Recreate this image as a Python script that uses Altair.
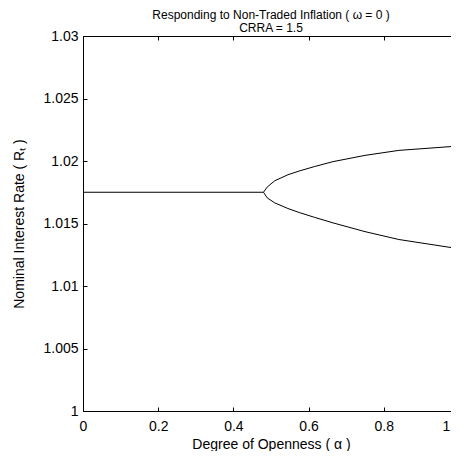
import altair as alt
import pandas as pd

# ---- data ----
alpha_flat = [0.0, 0.48]
rate_flat = [1.0175, 1.0175]

alpha_branch = [0.48, 0.49, 0.51, 0.545, 0.575, 0.615, 0.665, 0.75, 0.84, 1.0]
rate_upper = [1.01750, 1.01792, 1.01842, 1.01890, 1.01920, 1.01955, 1.01995, 1.02045, 1.02085, 1.02120]
rate_lower = [1.01750, 1.01705, 1.01665, 1.01620, 1.01588, 1.01550, 1.01505, 1.01435, 1.01372, 1.01298]

x_ticks = [0, 0.2, 0.4, 0.6, 0.8, 1]
y_ticks = [1, 1.005, 1.01, 1.015, 1.02, 1.025, 1.03]

title_lines = ["Responding to Non-Traded Inflation (  \u03c9 = 0 )", "CRRA = 1.5"]
x_title = "Degree of Openness ( \u03b1 )"
y_title = "Nominal Interest Rate ( R\u209c )"

rows = []
for a, r in zip(alpha_flat, rate_flat):
    rows.append({"alpha": a, "rate": r, "branch": "flat"})
for a, r in zip(alpha_branch, rate_upper):
    rows.append({"alpha": a, "rate": r, "branch": "upper"})
for a, r in zip(alpha_branch, rate_lower):
    rows.append({"alpha": a, "rate": r, "branch": "lower"})
df = pd.DataFrame(rows)

W, H = 376, 375
FONT = "Liberation Sans"
FS = 14
TITLE_FS = 12
TICK = 4


def xs():
    return alt.Scale(domain=[0, 1], nice=False, zero=False)


def ys():
    return alt.Scale(domain=[1, 1.03], nice=False, zero=False)


# Layer A: the curve, with labelled bottom and left axes (no ticks)
layer_a = alt.Chart(df).mark_line(color="black", strokeWidth=1, clip=True).encode(
    x=alt.X("alpha:Q", scale=xs(), axis=alt.Axis(
        orient="bottom", values=x_ticks, format="~g", ticks=False, tickSize=0,
        labelPadding=8, labelFlush=False, grid=False, domain=True,
        domainColor="black", title=x_title, titlePadding=4,
        titleFontWeight="normal",
        labelOffset={"condition": {"test": "datum.value == 1", "value": -13},
                     "value": 0})),
    y=alt.Y("rate:Q", scale=ys(), axis=alt.Axis(
        orient="left", values=y_ticks, format="~g", ticks=False, tickSize=0,
        labelPadding=5, labelFlush=False, grid=False, domain=True,
        domainColor="black", title=y_title, titlePadding=16,
        titleFontWeight="normal")),
    detail="branch:N",
)

# Layer B: inward ticks on the bottom and left edges
layer_b = alt.Chart(df).mark_line(opacity=0).encode(
    x=alt.X("alpha:Q", scale=xs(), axis=alt.Axis(
        orient="top", offset=-H, values=x_ticks, labels=False, ticks=True,
        tickSize=TICK, tickColor="black", domain=False, grid=False, title=None)),
    y=alt.Y("rate:Q", scale=ys(), axis=alt.Axis(
        orient="right", offset=-W, values=y_ticks, labels=False, ticks=True,
        tickSize=TICK, tickColor="black", domain=False, grid=False, title=None)),
    detail="branch:N",
)

# Layer C: top and right borders with inward ticks
layer_c = alt.Chart(df).mark_line(opacity=0).encode(
    x=alt.X("alpha:Q", scale=xs(), axis=alt.Axis(
        orient="bottom", offset=-H, values=x_ticks, labels=False, ticks=True,
        tickSize=TICK, tickColor="black", domain=True, domainColor="black",
        grid=False, title=None)),
    y=alt.Y("rate:Q", scale=ys(), axis=alt.Axis(
        orient="left", offset=-W, values=y_ticks, labels=False, ticks=True,
        tickSize=TICK, tickColor="black", domain=True, domainColor="black",
        grid=False, title=None)),
    detail="branch:N",
)

chart = alt.layer(layer_a, layer_b, layer_c).resolve_scale(
    x="independent", y="independent"
).properties(
    width=W,
    height=H,
    autosize=alt.AutoSizeParams(type="none"),
    padding={"left": 75, "top": 28, "right": -8, "bottom": 40},
    title=alt.TitleParams(
        text=title_lines, anchor="middle", frame="group", fontSize=TITLE_FS,
        fontWeight="normal", font=FONT, color="black", lineHeight=13.6,
        offset=0, dy=6.5),
).configure_view(stroke=None).configure_axis(
    labelFont=FONT, labelFontSize=FS, labelColor="black",
    titleFont=FONT, titleFontSize=FS, titleColor="black",
    domainWidth=1, tickWidth=1,
)

chart.save("out.html", embed_options={"renderer": "svg", "actions": False})
